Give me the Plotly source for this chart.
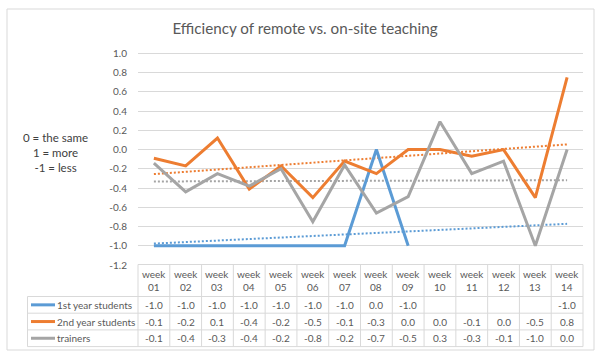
import numpy as np
import plotly.graph_objects as go
from decimal import Decimal, ROUND_HALF_UP

# ---------------- data ----------------
weeks = ["01", "02", "03", "04", "05", "06", "07", "08", "09", "10", "11", "12", "13", "14"]
first_year = [-1.0, -1.0, -1.0, -1.0, -1.0, -1.0, -1.0, 0.0, -1.0, None, None, None, None, -1.0]
second_year = [-0.09, -0.17, 0.12, -0.41, -0.17, -0.5, -0.12, -0.25, 0.0, 0.0, -0.07, 0.0, -0.5, 0.75]
trainers = [-0.14, -0.44, -0.25, -0.38, -0.2, -0.75, -0.16, -0.66, -0.49, 0.29, -0.25, -0.12, -1.0, 0.0]
series_names = ["1st year students", "2nd year students", "trainers"]
y_ticks = [1.0, 0.8, 0.6, 0.4, 0.2, 0.0, -0.2, -0.4, -0.6, -0.8, -1.0, -1.2]
title_text = "Efficiency of remote vs. on-site teaching"
side_note = ["0 = the same", "1 = more", "-1 = less"]

colors = ["#5B9BD5", "#ED7D31", "#A5A5A5"]
FONT = "Lato"
TXT = "#595959"
GRID = "#D9D9D9"
TBL_SIZE = 10

W, H = 605, 361
L_PX, R_PX = 138, 583          # plot area left/right (px)
T_PX, B_PX = 52, 265           # plot area top/bottom (px)
PX_PER_UNIT = 96.2
y_top = -1.2 + (B_PX - T_PX) / PX_PER_UNIT


def px_x(px):
    return (px - L_PX) / (R_PX - L_PX)


def px_y(py):
    return (B_PX - py) / (B_PX - T_PX)


def fmt(v):
    if v is None:
        return ""
    return str(Decimal(str(v)).quantize(Decimal("0.1"), rounding=ROUND_HALF_UP)).replace("-0.0", "0.0")


xs = list(range(1, len(weeks) + 1))
all_series = [first_year, second_year, trainers]

fig = go.Figure()

# trendlines (linear fit, like Excel)
for vals, c in zip(all_series, colors):
    px_ = [x for x, v in zip(xs, vals) if v is not None]
    py_ = [v for v in vals if v is not None]
    k, b = np.polyfit(px_, py_, 1)
    fig.add_trace(go.Scatter(x=[xs[0], xs[-1]], y=[k * xs[0] + b, k * xs[-1] + b],
                             mode="lines", line=dict(color=c, width=2, dash="2px,2px"),
                             showlegend=False, hoverinfo="skip"))

for vals, c, n in zip(all_series, colors, series_names):
    fig.add_trace(go.Scatter(x=xs, y=vals, mode="lines", name=n,
                             line=dict(color=c, width=3), connectgaps=False,
                             showlegend=False))

shapes = []
ann = []

# outer frame
shapes.append(dict(type="rect", xref="paper", yref="paper",
                   x0=px_x(7), x1=px_x(594), y0=px_y(9), y1=px_y(350),
                   line=dict(color=GRID, width=1), layer="below"))

# table geometry
hdr_top, hdr_bot = 264.5, 296.5
row_h = 16.7
row_bounds = [hdr_bot + i * row_h for i in range(len(all_series) + 1)]
lab_left = 27.5


def xdata_to_paper(x):
    return (x - 0.5) / len(weeks)


shapes.append(dict(type="line", xref="paper", yref="paper", x0=0, x1=1,
                   y0=px_y(hdr_top), y1=px_y(hdr_top), line=dict(color=GRID, width=1)))
for yb in row_bounds:
    shapes.append(dict(type="line", xref="paper", yref="paper", x0=px_x(lab_left), x1=1,
                       y0=px_y(yb), y1=px_y(yb), line=dict(color=GRID, width=1)))
for i in range(len(weeks) + 1):
    xp = xdata_to_paper(i + 0.5)
    shapes.append(dict(type="line", xref="paper", yref="paper", x0=xp, x1=xp,
                       y0=px_y(hdr_top), y1=px_y(row_bounds[-1]), line=dict(color=GRID, width=1)))
shapes.append(dict(type="line", xref="paper", yref="paper", x0=px_x(lab_left), x1=px_x(lab_left),
                   y0=px_y(row_bounds[0]), y1=px_y(row_bounds[-1]), line=dict(color=GRID, width=1)))

for x, w in zip(xs, weeks):
    ann.append(dict(xref="x", yref="paper", x=x, y=px_y((hdr_top + hdr_bot) / 2),
                    text="week<br>" + w, showarrow=False, xanchor="center", yanchor="middle",
                    font=dict(family=FONT, size=TBL_SIZE, color=TXT)))

for r, (vals, c, n) in enumerate(zip(all_series, colors, series_names)):
    yc = (row_bounds[r] + row_bounds[r + 1]) / 2
    shapes.append(dict(type="line", xref="paper", yref="paper", x0=px_x(31), x1=px_x(55),
                       y0=px_y(yc), y1=px_y(yc), line=dict(color=c, width=3)))
    ann.append(dict(xref="paper", yref="paper", x=px_x(55), y=px_y(yc), text=n,
                    showarrow=False, xanchor="left", yanchor="middle",
                    font=dict(family=FONT, size=TBL_SIZE, color=TXT)))
    for x, v in zip(xs, vals):
        if v is None:
            continue
        ann.append(dict(xref="x", yref="paper", x=x, y=px_y(yc), text=fmt(v),
                        showarrow=False, xanchor="center", yanchor="middle",
                        font=dict(family=FONT, size=TBL_SIZE, color=TXT)))

ann.append(dict(xref="paper", yref="paper", x=px_x(55), y=px_y(152),
                text="<br>".join(side_note), showarrow=False, xanchor="center", yanchor="middle",
                align="center", font=dict(family=FONT, size=11.5, color="#404040")))

fig.update_layout(
    width=W, height=H,
    margin=dict(l=L_PX, r=W - R_PX, t=T_PX, b=H - B_PX, pad=0),
    paper_bgcolor="white", plot_bgcolor="white",
    title=dict(text=title_text, x=305 / W, xref="container", y=1 - 29 / H, yanchor="middle",
               xanchor="center", font=dict(family=FONT, size=15.2, color=TXT)),
    xaxis=dict(range=[0.5, len(weeks) + 0.5], showticklabels=False, showgrid=False,
               zeroline=False, showline=False, ticks=""),
    yaxis=dict(range=[-1.2, y_top], tickvals=y_ticks, ticktext=[f"{t:.1f}" for t in y_ticks],
               showgrid=True, gridcolor=GRID, gridwidth=1, zeroline=False, showline=False,
               ticks="", ticklabelstandoff=10, automargin=False,
               tickfont=dict(family=FONT, size=10, color=TXT)),
    shapes=shapes, annotations=ann, showlegend=False,
)

fig.write_html("out.html", config={"displayModeBar": False},
               post_script="document.body.style.margin='0';document.body.style.overflow='hidden';")
